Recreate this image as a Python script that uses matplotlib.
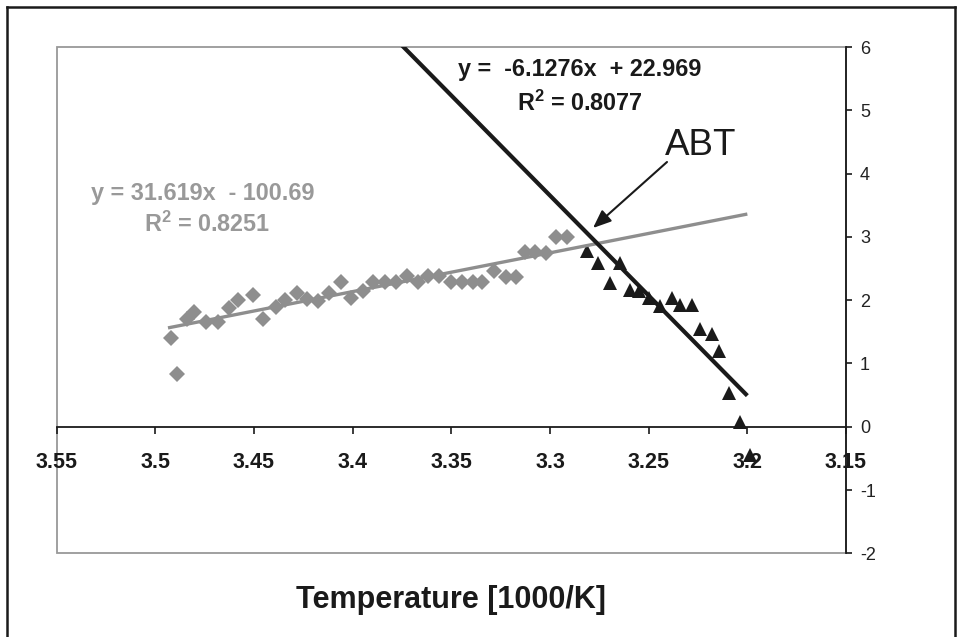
import matplotlib
matplotlib.use("Agg")
import matplotlib.pyplot as plt
from matplotlib.lines import Line2D
from matplotlib.patches import Rectangle

plt.rcParams['font.family'] = ['Liberation Sans', 'DejaVu Sans']
plt.rcParams['mathtext.fontset'] = 'custom'
plt.rcParams['mathtext.rm'] = 'Liberation Sans'
plt.rcParams['mathtext.bf'] = 'Liberation Sans:bold'

# Low-temperature branch (gray diamonds)
gray_x = [3.4921, 3.4892, 3.4838, 3.4803, 3.4743, 3.4684, 3.4625, 3.4580,
          3.4507, 3.4456, 3.4389, 3.4341, 3.4282, 3.4233, 3.4174, 3.4118,
          3.4058, 3.4007, 3.3946, 3.3895, 3.3838, 3.3780, 3.3723, 3.3670,
          3.3620, 3.3561, 3.3503, 3.3447, 3.3392, 3.3343, 3.3282, 3.3224,
          3.3172, 3.3126, 3.3076, 3.3022, 3.2971, 3.2915]
gray_y = [1.40, 0.83, 1.71, 1.81, 1.66, 1.66, 1.87, 2.00,
          2.08, 1.71, 1.89, 2.00, 2.12, 2.02, 1.99, 2.11,
          2.29, 2.03, 2.15, 2.29, 2.29, 2.29, 2.38, 2.29,
          2.38, 2.38, 2.29, 2.29, 2.29, 2.29, 2.46, 2.37,
          2.37, 2.76, 2.76, 2.74, 2.99, 2.99]

# High-temperature branch (black triangles)
black_x = [3.2814, 3.2755, 3.2696, 3.2645, 3.2594, 3.2547, 3.2497, 3.2442,
           3.2383, 3.2341, 3.2282, 3.2240, 3.2180, 3.2142, 3.2091, 3.2037,
           3.1986]
black_y = [2.78, 2.59, 2.27, 2.59, 2.16, 2.15, 2.04, 1.91,
           2.04, 1.92, 1.92, 1.55, 1.46, 1.20, 0.53, 0.07,
           -0.44]

# Linear trendlines (slope, intercept) and the x span each one covers
gray_fit = (-6.1276, 22.969)
gray_fit_span = [3.4936, 3.2]
black_fit = (31.619, -100.69)
black_fit_span = [3.40, 3.2]

gray_eq = "y =  -6.1276x  + 22.969"
gray_r2 = r"R$^\mathbf{2}$ = 0.8077"
black_eq = "y = 31.619x  - 100.69"
black_r2 = r"R$^\mathbf{2}$ = 0.8251"

x_ticks = [3.55, 3.5, 3.45, 3.4, 3.35, 3.3, 3.25, 3.2, 3.15]
x_tick_labels = ["3.55", "3.5", "3.45", "3.4", "3.35", "3.3", "3.25", "3.2", "3.15"]
y_ticks = [-2, -1, 0, 1, 2, 3, 4, 5, 6]

W, H = 962, 637
GRAY = "#8e8e8e"
INK = "#1a1a1a"

fig = plt.figure(figsize=(W / 100, H / 100), dpi=100)
fig.patch.set_facecolor("white")

L, R, T, B = 56.7, 846.0, 47.0, 553.3
ax = fig.add_axes([L / W, 1 - B / H, (R - L) / W, (B - T) / H])
ax.set_xlim(3.55, 3.15)
ax.set_ylim(-2, 6)

# plot-area frame
ax.add_patch(Rectangle((0, 0), 1, 1, transform=ax.transAxes, fill=False,
                       edgecolor="#999999", lw=1.3, zorder=1, clip_on=False))
ax.spines['top'].set_visible(False)
ax.spines['left'].set_visible(False)
ax.spines['bottom'].set_position(('data', 0))
ax.spines['bottom'].set_color(INK)
ax.spines['bottom'].set_linewidth(1.3)
ax.spines['right'].set_color(INK)
ax.spines['right'].set_linewidth(1.3)

ax.set_xticks(x_ticks)
ax.set_xticklabels(x_tick_labels)
ax.tick_params(axis='x', direction='out', length=5, width=1.2, color=INK,
               pad=13, labelsize=15.5, labelcolor=INK)
for lab in ax.get_xticklabels():
    lab.set_fontweight('bold')

ax.yaxis.tick_right()
ax.set_yticks(y_ticks)
ax.set_yticklabels([str(v) for v in y_ticks])
ax.tick_params(axis='y', direction='out', length=4, width=1.2, color=INK,
               pad=6, labelsize=13, labelcolor="#222222")

# data points
ax.plot(gray_x, gray_y, linestyle='none', marker='D', markersize=8.5,
        color=GRAY, markeredgewidth=0, zorder=3)
ax.plot(black_x, black_y, linestyle='none', marker='^', markersize=9.5,
        color=INK, markeredgewidth=0, zorder=3, clip_on=False)

# trendlines
gx = gray_fit_span
ax.plot(gx, [gray_fit[0] * v + gray_fit[1] for v in gx], color=GRAY, lw=2.4,
        zorder=4, solid_capstyle='butt')
bx = black_fit_span
ax.plot(bx, [black_fit[0] * v + black_fit[1] for v in bx], color=INK, lw=3.0,
        zorder=5, solid_capstyle='butt')

# equation labels
def ftext(x, y, s, **kw):
    fig.text(x / W, 1 - y / H, s, ha='center', va='baseline', **kw)

ftext(580, 76, gray_eq, fontsize=16.8, fontweight='bold', color=INK)
ftext(580, 111, gray_r2, fontsize=16.8, fontweight='bold', color=INK)
ftext(202.5, 200, black_eq, fontsize=16.8, fontweight='bold', color="#999999")
ftext(207.5, 231.7, black_r2, fontsize=16.8, fontweight='bold', color="#999999")

# crossing-point annotation
ftext(701, 155, "ABT", fontsize=26.5, color=INK)
ax.annotate("", xy=(593 / W, 1 - 228 / H), xycoords='figure fraction',
            xytext=(667 / W, 1 - 162 / H), textcoords='figure fraction',
            arrowprops=dict(arrowstyle='-|>,head_length=1.1,head_width=0.45',
                            color=INK, lw=1.5, shrinkA=0, shrinkB=0))

ftext(451, 608.3, "Temperature [1000/K]", fontsize=22, fontweight='bold', color=INK)

# outer frame (left, top, right)
fig.add_artist(Line2D([6.5 / W, 6.5 / W], [0, 1 - 7 / H], color=INK, lw=1.8))
fig.add_artist(Line2D([6.5 / W, 955.5 / W], [1 - 7 / H, 1 - 7 / H], color=INK, lw=1.8))
fig.add_artist(Line2D([955.5 / W, 955.5 / W], [0, 1 - 7 / H], color=INK, lw=1.8))

fig.savefig("out.png", dpi=100, facecolor="white")
